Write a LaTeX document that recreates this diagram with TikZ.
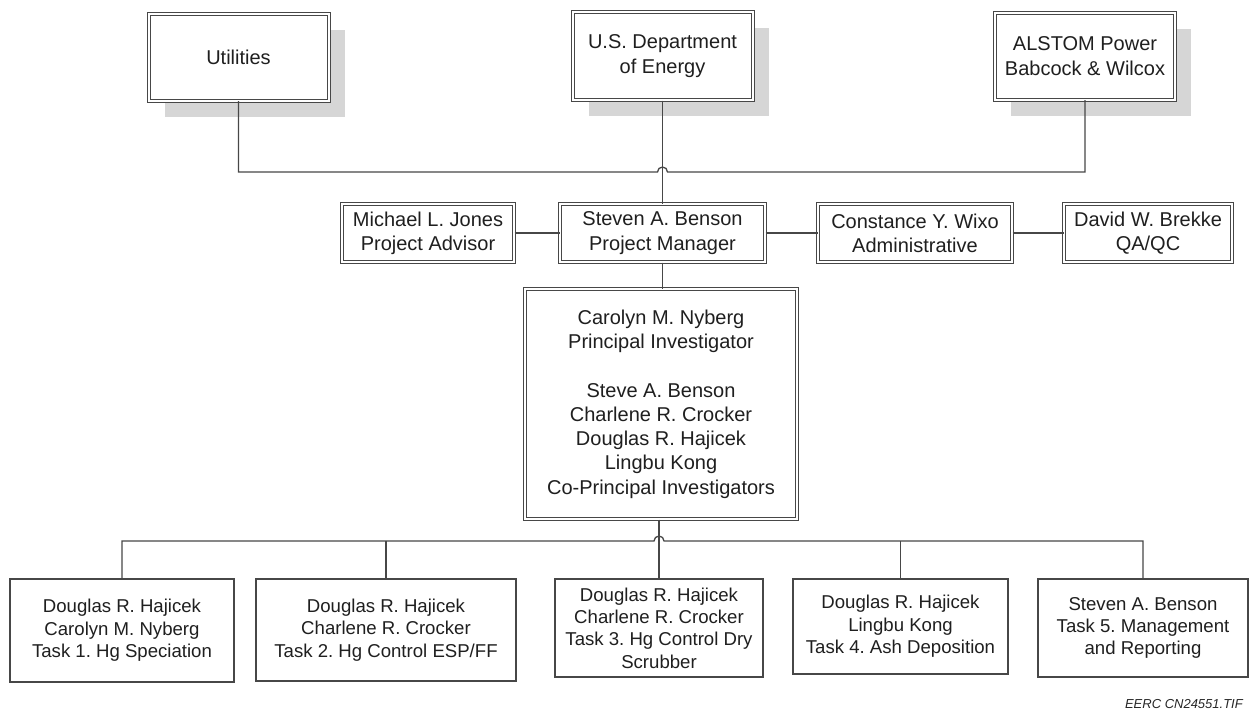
\documentclass[tikz,border=0pt]{standalone}
\usepackage{fontspec}
\setmainfont{Liberation Sans}
\usetikzlibrary{shadows}
\frenchspacing
\begin{document}
\begin{tikzpicture}[x=1pt,y=1pt,
  txt/.style={font=\fontsize{20}{24.3}\selectfont\frenchspacing, text=black!88, align=center, inner sep=0pt},
  dbox/.style={txt, fill=white, draw=black!72, line width=1pt, double=white, double distance=2pt},
  sbox/.style={dbox, drop shadow={shadow xshift=16pt, shadow yshift=-16pt, fill=black!16, draw=none, double=none, opacity=1}},
  tbox/.style={txt, font=\fontsize{18.6}{22.4}\selectfont\frenchspacing, fill=white, draw=black!72, line width=1.3pt},
  conn/.style={draw=black!72, line width=1.3pt}]
\useasboundingbox (0,0) rectangle (1250,-713);
% top row
\node[sbox, minimum width=180, minimum height=87] (util) at (238.5,-57) {Utilities};
\node[sbox, minimum width=180, minimum height=88] (doe) at (662.5,-56) {U.S. Department\\of Energy};
\node[sbox, minimum width=180, minimum height=87] (alstom) at (1085,-56) {ALSTOM Power\\Babcock \& Wilcox};
% middle row
\node[dbox, minimum width=172, minimum height=58] (jones) at (428,-233) {Michael L. Jones\\Project Advisor};
\node[dbox, minimum width=205, minimum height=58] (benson) at (662.5,-233) {Steven A. Benson\\Project Manager};
\node[dbox, minimum width=194, minimum height=58] (wixo) at (915,-233) {Constance Y. Wixo\\Administrative};
\node[dbox, minimum width=168, minimum height=58] (brekke) at (1148,-233) {David W. Brekke\\QA/QC};
% central box
\node[dbox, minimum width=272, minimum height=230] (pi) at (661,-404) {Carolyn M. Nyberg\\Principal Investigator\\[24.3pt]Steve A. Benson\\Charlene R. Crocker\\Douglas R. Hajicek\\Lingbu Kong\\Co-Principal Investigators};
% task row
\node[tbox, minimum width=224, minimum height=103] (t1) at (122,-630.5) {Douglas R. Hajicek\\Carolyn M. Nyberg\\Task 1. Hg Speciation};
\node[tbox, minimum width=260, minimum height=102] (t2) at (386,-630) {Douglas R. Hajicek\\Charlene R. Crocker\\Task 2. Hg Control ESP/FF};
\node[tbox, minimum width=208, minimum height=98] (t3) at (659,-628) {Douglas R. Hajicek\\Charlene R. Crocker\\Task 3. Hg Control Dry\\Scrubber};
\node[tbox, minimum width=215, minimum height=95] (t4) at (900.5,-626.5) {Douglas R. Hajicek\\Lingbu Kong\\Task 4. Ash Deposition};
\node[tbox, minimum width=210, minimum height=98] (t5) at (1143,-628) {Steven A. Benson\\Task 5. Management\\and Reporting};
% footer
\node[font=\fontsize{13}{15}\selectfont\itshape, text=black!85, anchor=east, inner sep=0pt] (foot) at (1243,-704) {EERC CN24551.TIF};
% connectors: top bus
\coordinate (hopA) at (657.5,-172);
\coordinate (hopB) at (667.5,-172);
\draw[conn] (util.south) -- (util.south |- hopA) -- (hopA) arc[start angle=180,end angle=0,radius=5pt] -- (alstom.south |- hopB) -- (alstom.south);
\draw[conn] (doe.south) -- (benson.north);
% middle row
\draw[conn] (jones.east) -- (benson.west);
\draw[conn] (benson.east) -- (wixo.west);
\draw[conn] (wixo.east) -- (brekke.west);
\draw[conn] (benson.south) -- (benson.south |- pi.north);
% bottom bus
\coordinate (hopC) at (654,-541);
\coordinate (hopD) at (664,-541);
\draw[conn] (t1.north) -- (t1.north |- hopC) -- (hopC) arc[start angle=180,end angle=0,radius=5pt] -- (t5.north |- hopD) -- (t5.north);
\draw[conn] (t2.north) -- (t2.north |- hopC);
\draw[conn] (t4.north) -- (t4.north |- hopC);
\draw[conn] (pi.south -| t3.north) -- (t3.north);
\end{tikzpicture}
\end{document}
